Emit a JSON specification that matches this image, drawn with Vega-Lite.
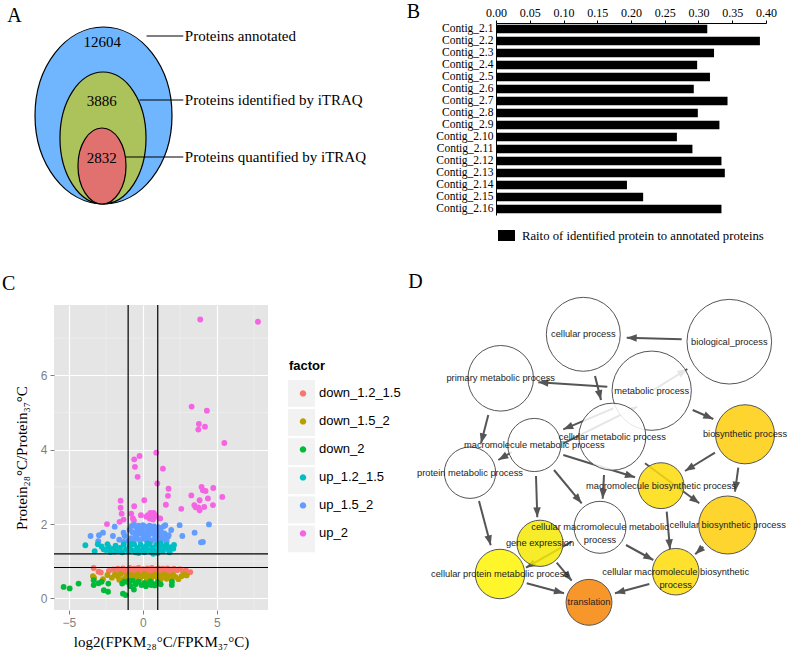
{
  "$schema": "https://vega.github.io/schema/vega-lite/v6.json",
  "padding": {"left": 2, "top": 2, "right": 0, "bottom": 0},
  "background": "white",
  "config": {"view": {"stroke": null}},
  "spacing": 29,
  "resolve": {"scale": {"color": "independent", "size": "independent", "shape": "independent"}, "legend": {"color": "independent", "size": "independent", "shape": "independent"}},
  "vconcat": [
    {
      "resolve": {"scale": {"color": "independent", "size": "independent", "shape": "independent"}, "legend": {"color": "independent", "size": "independent", "shape": "independent"}},
      "hconcat": [
        {
          "width": 442,
          "height": 192,
          "data": {"values": [
            {"set": "annotated", "n": 12604, "label": "Proteins annotated", "cx": 103.5, "cy": 115.5, "nx": 102.3, "ny": 42, "lx1": 146.5, "lx2": 183.3, "ly": 36},
            {"set": "identified", "n": 3886, "label": "Proteins identified by iTRAQ", "cx": 103, "cy": 138, "nx": 101.7, "ny": 101, "lx1": 139.5, "lx2": 183.3, "ly": 100},
            {"set": "quantified", "n": 2832, "label": "Proteins quantified by iTRAQ", "cx": 102, "cy": 166, "nx": 101.7, "ny": 158, "lx1": 126, "lx2": 183.3, "ly": 157}
          ]},
          "layer": [
            {
              "mark": {"type": "point", "filled": true, "stroke": "black", "strokeWidth": 1.2, "opacity": 1},
              "encoding": {
                "x": {"field": "cx", "type": "quantitative", "scale": {"domain": [54, 496], "nice": false, "zero": false}, "axis": null},
                "y": {"field": "cy", "type": "quantitative", "scale": {"domain": [23, 215], "nice": false, "zero": false, "reverse": true}, "axis": null},
                "shape": {"field": "set", "type": "nominal", "legend": null, "scale": {"domain": ["annotated", "identified", "quantified"], "range": [
                  "M 0.774 0 C 0.774 0.5523 0.4275 1 0 1 C -0.4275 1 -0.774 0.5523 -0.774 0 C -0.774 -0.5523 -0.4275 -1 0 -1 C 0.4275 -1 0.774 -0.5523 0.774 0 Z",
                  "M 0.652 0 C 0.652 0.5523 0.3601 1 0 1 C -0.3601 1 -0.652 0.5523 -0.652 0 C -0.652 -0.5523 -0.3601 -1 0 -1 C 0.3601 -1 0.652 -0.5523 0.652 0 Z",
                  "M 0.632 0 C 0.632 0.5523 0.349 1 0 1 C -0.349 1 -0.632 0.5523 -0.632 0 C -0.632 -0.5523 -0.349 -1 0 -1 C 0.349 -1 0.632 -0.5523 0.632 0 Z"
                ]}},
                "size": {"field": "n", "type": "quantitative", "legend": null, "scale": {"type": "linear", "domain": [2832, 3886, 12604], "range": [5776, 17424, 31329]}},
                "color": {"field": "set", "type": "nominal", "legend": null, "scale": {"domain": ["annotated", "identified", "quantified"], "range": ["#6FB6FF", "#ACC25B", "#E1716F"]}}
              }
            },
            {
              "mark": {"type": "text", "font": "Liberation Serif", "fontSize": 15, "align": "center", "baseline": "middle", "color": "black"},
              "encoding": {
                "x": {"field": "nx", "type": "quantitative", "scale": {"domain": [54, 496], "nice": false, "zero": false}, "axis": null},
                "y": {"field": "ny", "type": "quantitative", "scale": {"domain": [23, 215], "nice": false, "zero": false, "reverse": true}, "axis": null},
                "text": {"field": "n", "type": "quantitative", "format": "d"}
              }
            },
            {
              "mark": {"type": "rule", "color": "black", "strokeWidth": 1.2},
              "encoding": {
                "x": {"field": "lx1", "type": "quantitative", "scale": {"domain": [54, 496], "nice": false, "zero": false}, "axis": null},
                "x2": {"field": "lx2"},
                "y": {"field": "ly", "type": "quantitative", "scale": {"domain": [23, 215], "nice": false, "zero": false, "reverse": true}, "axis": null}
              }
            },
            {
              "mark": {"type": "text", "font": "Liberation Serif", "fontSize": 15, "align": "left", "baseline": "middle", "dx": 1.5, "color": "black"},
              "encoding": {
                "x": {"field": "lx2", "type": "quantitative", "scale": {"domain": [54, 496], "nice": false, "zero": false}, "axis": null},
                "y": {"field": "ly", "type": "quantitative", "scale": {"domain": [23, 215], "nice": false, "zero": false, "reverse": true}, "axis": null},
                "text": {"field": "label"}
              }
            },
            {
              "data": {"values": [{"t": "A", "x": 7.3, "y": 21.7}, {"t": "B", "x": 406.7, "y": 18.3}]},
              "mark": {"type": "text", "font": "Liberation Serif", "fontSize": 20, "align": "left", "baseline": "alphabetic", "color": "black"},
              "encoding": {
                "x": {"field": "x", "type": "quantitative", "scale": {"domain": [54, 496], "nice": false, "zero": false}, "axis": null},
                "y": {"field": "y", "type": "quantitative", "scale": {"domain": [23, 215], "nice": false, "zero": false, "reverse": true}, "axis": null},
                "text": {"field": "t"}
              }
            }
          ]
        },
        {
          "width": 270,
          "height": 192,
          "data": {"values": [
            {"contig": "Contig_2.1", "ratio": 0.313, "measure": "Raito of identified protein to annotated proteins"},
            {"contig": "Contig_2.2", "ratio": 0.391, "measure": "Raito of identified protein to annotated proteins"},
            {"contig": "Contig_2.3", "ratio": 0.323, "measure": "Raito of identified protein to annotated proteins"},
            {"contig": "Contig_2.4", "ratio": 0.298, "measure": "Raito of identified protein to annotated proteins"},
            {"contig": "Contig_2.5", "ratio": 0.317, "measure": "Raito of identified protein to annotated proteins"},
            {"contig": "Contig_2.6", "ratio": 0.293, "measure": "Raito of identified protein to annotated proteins"},
            {"contig": "Contig_2.7", "ratio": 0.343, "measure": "Raito of identified protein to annotated proteins"},
            {"contig": "Contig_2.8", "ratio": 0.299, "measure": "Raito of identified protein to annotated proteins"},
            {"contig": "Contig_2.9", "ratio": 0.331, "measure": "Raito of identified protein to annotated proteins"},
            {"contig": "Contig_2.10", "ratio": 0.268, "measure": "Raito of identified protein to annotated proteins"},
            {"contig": "Contig_2.11", "ratio": 0.291, "measure": "Raito of identified protein to annotated proteins"},
            {"contig": "Contig_2.12", "ratio": 0.334, "measure": "Raito of identified protein to annotated proteins"},
            {"contig": "Contig_2.13", "ratio": 0.339, "measure": "Raito of identified protein to annotated proteins"},
            {"contig": "Contig_2.14", "ratio": 0.194, "measure": "Raito of identified protein to annotated proteins"},
            {"contig": "Contig_2.15", "ratio": 0.218, "measure": "Raito of identified protein to annotated proteins"},
            {"contig": "Contig_2.16", "ratio": 0.334, "measure": "Raito of identified protein to annotated proteins"}
          ]},
          "mark": {"type": "bar"},
          "encoding": {
            "y": {"field": "contig", "type": "nominal", "sort": null, "scale": {"paddingInner": 0.31, "paddingOuter": 0.155},
              "axis": {"title": null, "ticks": false, "labelFont": "Liberation Serif", "labelFontSize": 11.5, "labelColor": "black", "labelPadding": 3, "domainColor": "black", "domainWidth": 1}},
            "x": {"field": "ratio", "type": "quantitative", "scale": {"domain": [0, 0.4], "nice": false, "zero": true},
              "axis": {"orient": "top", "title": null, "grid": false, "values": [0, 0.05, 0.1, 0.15, 0.2, 0.25, 0.3, 0.35, 0.4], "format": ".2f", "tickSize": 3, "tickColor": "black", "domainColor": "black", "labelColor": "black", "labelFont": "Liberation Serif", "labelFontSize": 12, "labelPadding": 1, "labelFlush": false}},
            "color": {"field": "measure", "type": "nominal", "scale": {"range": ["black"]},
              "legend": {"orient": "none", "legendX": 2, "legendY": 204, "title": null, "symbolType": "M -1 -0.65 L 1 -0.65 L 1 0.65 L -1 0.65 Z", "symbolSize": 289, "symbolStrokeWidth": 0, "labelFont": "Liberation Serif", "labelFontSize": 12.7, "labelColor": "black", "labelOffset": 7, "labelLimit": 400, "padding": 0}}
          }
        }
      ],
      "spacing": 0,
      "bounds": "flush"
    },
    {
      "resolve": {"scale": {"color": "independent", "size": "independent", "shape": "independent"}, "legend": {"color": "independent", "size": "independent", "shape": "independent"}},
      "hconcat": [
        {
          "width": 214,
          "height": 305,
          "view": {"fill": "#E5E5E5", "stroke": null},
          "layer": [
            {
              "data": {"values": [{"k": "k1"}, {"k": "k2"}, {"k": "k3"}, {"k": "k4"}, {"k": "k5"}, {"k": "k6"}]},
              "mark": {"type": "point", "filled": true, "color": "#F2F2F2", "opacity": 0},
              "encoding": {
                "shape": {"field": "k", "type": "nominal",
                  "scale": {"domain": ["k1", "k2", "k3", "k4", "k5", "k6"], "range": [
                    "M -0.96 -0.96 L 0.96 -0.96 L 0.96 0.96 L -0.96 0.96 Z", "M -0.96 -0.96 L 0.96 -0.96 L 0.96 0.96 L -0.96 0.96 Z", "M -0.96 -0.96 L 0.96 -0.96 L 0.96 0.96 L -0.96 0.96 Z",
                    "M -0.96 -0.96 L 0.96 -0.96 L 0.96 0.96 L -0.96 0.96 Z", "M -0.96 -0.96 L 0.96 -0.96 L 0.96 0.96 L -0.96 0.96 Z", "M -0.96 -0.96 L 0.96 -0.96 L 0.96 0.96 L -0.96 0.96 Z"]},
                  "legend": {"title": " ", "orient": "none", "legendX": 233.5, "legendY": 55.4, "titleFont": "Liberation Sans", "titleFontSize": 13, "titleFontWeight": "bold", "titlePadding": 6, "labelFont": "Liberation Sans", "labelFontSize": 13, "labelExpr": "''", "labelOffset": 2, "symbolSize": 784, "symbolFillColor": "#F2F2F2", "symbolStrokeWidth": 0, "symbolOpacity": 1, "rowPadding": 1.1, "padding": 0, "zindex": 0}}
              }
            },
            {
              "data": {"values": [{"x": -2.5}, {"x": 2.5}, {"x": 7.5}]},
              "mark": {"type": "rule", "color": "#F2F2F2", "strokeWidth": 0.6},
              "encoding": {"x": {"field": "x", "type": "quantitative", "scale": {"domain": [-6.01, 8.45], "nice": false, "zero": false}}}
            },
            {
              "data": {"values": [{"y": 1}, {"y": 3}, {"y": 5}, {"y": 7}]},
              "mark": {"type": "rule", "color": "#F2F2F2", "strokeWidth": 0.6},
              "encoding": {"y": {"field": "y", "type": "quantitative", "scale": {"domain": [-0.31, 7.89], "nice": false, "zero": false}}}
            },
            {
              "data": {"values": [
                {"x": 3.87, "y": 7.5, "f": "up_2"}, {"x": 7.77, "y": 7.44, "f": "up_2"}, {"x": 3.29, "y": 5.16, "f": "up_2"}, {"x": 4.32, "y": 5.05, "f": "up_2"},
                {"x": 3.78, "y": 4.69, "f": "up_2"}, {"x": 4.19, "y": 4.62, "f": "up_2"}, {"x": 3.74, "y": 4.54, "f": "up_2"}, {"x": 5.5, "y": 4.18, "f": "up_2"},
                {"x": 0.9, "y": 3.92, "f": "up_2"}, {"x": -0.23, "y": 3.83, "f": "up_2"}, {"x": -0.59, "y": 3.74, "f": "up_2"}, {"x": -0.54, "y": 3.54, "f": "up_2"},
                {"x": 1.35, "y": 3.49, "f": "up_2"}, {"x": -0.36, "y": 3.27, "f": "up_2"}, {"x": 0.97, "y": 3.09, "f": "up_2"}, {"x": 1.73, "y": 2.95, "f": "up_2"},
                {"x": 4.75, "y": 2.97, "f": "up_2"}, {"x": 3.96, "y": 3.0, "f": "up_2"}, {"x": 4.05, "y": 2.91, "f": "up_2"}, {"x": 4.23, "y": 2.89, "f": "up_2"},
                {"x": 3.27, "y": 2.77, "f": "up_2"}, {"x": 5.36, "y": 2.73, "f": "up_2"}, {"x": 1.69, "y": 2.76, "f": "up_2"}, {"x": 4.39, "y": 2.69, "f": "up_2"},
                {"x": 3.83, "y": 2.64, "f": "up_2"}, {"x": 0.09, "y": 2.64, "f": "up_2"}, {"x": -1.51, "y": 2.63, "f": "up_2"}, {"x": 3.47, "y": 2.51, "f": "up_2"},
                {"x": 1.55, "y": 2.52, "f": "up_2"}, {"x": 4.73, "y": 2.51, "f": "up_2"}, {"x": -0.59, "y": 2.48, "f": "up_2"}, {"x": -1.51, "y": 2.44, "f": "up_2"},
                {"x": 3.56, "y": 2.45, "f": "up_2"}, {"x": 3.74, "y": 2.45, "f": "up_2"}, {"x": 4.14, "y": 2.46, "f": "up_2"}, {"x": 2.59, "y": 2.41, "f": "up_2"},
                {"x": 3.83, "y": 2.37, "f": "up_2"}, {"x": -1.44, "y": 2.28, "f": "up_2"}, {"x": -0.79, "y": 2.28, "f": "up_2"}, {"x": -0.14, "y": 2.24, "f": "up_2"},
                {"x": 0.34, "y": 2.24, "f": "up_2"}, {"x": 0.56, "y": 2.28, "f": "up_2"}, {"x": 0.72, "y": 2.3, "f": "up_2"}, {"x": 0.81, "y": 2.24, "f": "up_2"},
                {"x": 0.45, "y": 2.15, "f": "up_2"}, {"x": 0.68, "y": 2.12, "f": "up_2"}, {"x": 1.17, "y": 2.15, "f": "up_2"}, {"x": -0.68, "y": 2.15, "f": "up_2"},
                {"x": -1.31, "y": 2.12, "f": "up_2"}, {"x": -1.58, "y": 2.06, "f": "up_2"}, {"x": -2.43, "y": 2.0, "f": "up_2"}, {"x": 0.23, "y": 2.2, "f": "up_2"},
                {"x": 0.9, "y": 2.2, "f": "up_2"}, {"x": -0.61, "y": 2.09, "f": "up_2"}, {"x": 0.5, "y": 2.3, "f": "up_2"}, {"x": 0.62, "y": 2.26, "f": "up_2"},

                {"x": -3.54, "y": 1.68, "f": "up_1.5_2"}, {"x": -2.97, "y": 1.7, "f": "up_1.5_2"}, {"x": -2.7, "y": 1.77, "f": "up_1.5_2"}, {"x": -1.91, "y": 1.93, "f": "up_1.5_2"},
                {"x": -2.03, "y": 1.68, "f": "up_1.5_2"}, {"x": -3.02, "y": 1.54, "f": "up_1.5_2"}, {"x": -1.24, "y": 1.68, "f": "up_1.5_2"}, {"x": -1.31, "y": 1.77, "f": "up_1.5_2"},
                {"x": 2.48, "y": 1.97, "f": "up_1.5_2"}, {"x": 2.66, "y": 1.68, "f": "up_1.5_2"}, {"x": 3.49, "y": 1.77, "f": "up_1.5_2"}, {"x": 4.46, "y": 1.99, "f": "up_1.5_2"},
                {"x": 3.92, "y": 1.51, "f": "up_1.5_2"}, {"x": 4.05, "y": 1.52, "f": "up_1.5_2"}, {"x": 1.91, "y": 1.84, "f": "up_1.5_2"}, {"x": 1.69, "y": 1.66, "f": "up_1.5_2"},
                {"x": 1.4, "y": 1.94, "f": "up_1.5_2"}, {"x": 1.51, "y": 1.97, "f": "up_1.5_2"}, {"x": 1.45, "y": 1.75, "f": "up_1.5_2"},
                {"x": -0.75, "y": 1.95, "f": "up_1.5_2"}, {"x": -0.6, "y": 1.98, "f": "up_1.5_2"}, {"x": -0.45, "y": 1.92, "f": "up_1.5_2"}, {"x": -0.3, "y": 1.96, "f": "up_1.5_2"},
                {"x": -0.15, "y": 1.9, "f": "up_1.5_2"}, {"x": 0.0, "y": 1.97, "f": "up_1.5_2"}, {"x": 0.15, "y": 1.93, "f": "up_1.5_2"}, {"x": 0.3, "y": 1.88, "f": "up_1.5_2"},
                {"x": 0.45, "y": 1.96, "f": "up_1.5_2"}, {"x": 0.6, "y": 1.9, "f": "up_1.5_2"}, {"x": 0.75, "y": 1.94, "f": "up_1.5_2"}, {"x": 0.9, "y": 1.86, "f": "up_1.5_2"},
                {"x": 1.05, "y": 1.92, "f": "up_1.5_2"}, {"x": 1.2, "y": 1.82, "f": "up_1.5_2"}, {"x": -0.7, "y": 1.78, "f": "up_1.5_2"}, {"x": -0.5, "y": 1.72, "f": "up_1.5_2"},
                {"x": -0.35, "y": 1.82, "f": "up_1.5_2"}, {"x": -0.2, "y": 1.75, "f": "up_1.5_2"}, {"x": -0.05, "y": 1.8, "f": "up_1.5_2"}, {"x": 0.1, "y": 1.7, "f": "up_1.5_2"},
                {"x": 0.25, "y": 1.78, "f": "up_1.5_2"}, {"x": 0.4, "y": 1.72, "f": "up_1.5_2"}, {"x": 0.55, "y": 1.8, "f": "up_1.5_2"}, {"x": 0.7, "y": 1.74, "f": "up_1.5_2"},
                {"x": 0.85, "y": 1.68, "f": "up_1.5_2"}, {"x": 1.0, "y": 1.76, "f": "up_1.5_2"}, {"x": 1.15, "y": 1.66, "f": "up_1.5_2"}, {"x": 1.3, "y": 1.72, "f": "up_1.5_2"},
                {"x": 1.45, "y": 1.6, "f": "up_1.5_2"}, {"x": -0.8, "y": 1.62, "f": "up_1.5_2"}, {"x": -0.6, "y": 1.58, "f": "up_1.5_2"}, {"x": -0.4, "y": 1.62, "f": "up_1.5_2"},
                {"x": -0.2, "y": 1.56, "f": "up_1.5_2"}, {"x": 0.0, "y": 1.62, "f": "up_1.5_2"}, {"x": 0.2, "y": 1.58, "f": "up_1.5_2"}, {"x": 0.4, "y": 1.6, "f": "up_1.5_2"},
                {"x": 0.6, "y": 1.55, "f": "up_1.5_2"}, {"x": 0.8, "y": 1.6, "f": "up_1.5_2"}, {"x": 1.0, "y": 1.56, "f": "up_1.5_2"}, {"x": 1.2, "y": 1.56, "f": "up_1.5_2"},
                {"x": -1.0, "y": 1.55, "f": "up_1.5_2"}, {"x": -1.3, "y": 1.52, "f": "up_1.5_2"}, {"x": -1.6, "y": 1.58, "f": "up_1.5_2"}, {"x": 1.6, "y": 1.54, "f": "up_1.5_2"},
                {"x": -0.9, "y": 1.85, "f": "up_1.5_2"}, {"x": 1.74, "y": 1.7, "f": "up_1.5_2"},

                {"x": -3.89, "y": 1.43, "f": "up_1.2_1.5"}, {"x": -3.26, "y": 1.27, "f": "up_1.2_1.5"}, {"x": -3.05, "y": 1.46, "f": "up_1.2_1.5"}, {"x": -2.66, "y": 1.32, "f": "up_1.2_1.5"},
                {"x": -2.8, "y": 1.4, "f": "up_1.2_1.5"}, {"x": -2.5, "y": 1.3, "f": "up_1.2_1.5"}, {"x": -2.3, "y": 1.38, "f": "up_1.2_1.5"}, {"x": -2.2, "y": 1.25, "f": "up_1.2_1.5"},
                {"x": -2.0, "y": 1.33, "f": "up_1.2_1.5"}, {"x": -1.85, "y": 1.42, "f": "up_1.2_1.5"}, {"x": -1.7, "y": 1.28, "f": "up_1.2_1.5"}, {"x": -1.55, "y": 1.36, "f": "up_1.2_1.5"},
                {"x": -1.4, "y": 1.24, "f": "up_1.2_1.5"}, {"x": -1.3, "y": 1.45, "f": "up_1.2_1.5"}, {"x": -1.15, "y": 1.32, "f": "up_1.2_1.5"}, {"x": -1.0, "y": 1.26, "f": "up_1.2_1.5"},
                {"x": -0.9, "y": 1.4, "f": "up_1.2_1.5"}, {"x": -0.75, "y": 1.3, "f": "up_1.2_1.5"}, {"x": -0.6, "y": 1.46, "f": "up_1.2_1.5"}, {"x": -0.5, "y": 1.24, "f": "up_1.2_1.5"},
                {"x": -0.4, "y": 1.36, "f": "up_1.2_1.5"}, {"x": -0.25, "y": 1.28, "f": "up_1.2_1.5"}, {"x": -0.15, "y": 1.44, "f": "up_1.2_1.5"}, {"x": 0.0, "y": 1.32, "f": "up_1.2_1.5"},
                {"x": 0.1, "y": 1.24, "f": "up_1.2_1.5"}, {"x": 0.2, "y": 1.4, "f": "up_1.2_1.5"}, {"x": 0.35, "y": 1.3, "f": "up_1.2_1.5"}, {"x": 0.45, "y": 1.46, "f": "up_1.2_1.5"},
                {"x": 0.55, "y": 1.25, "f": "up_1.2_1.5"}, {"x": 0.65, "y": 1.36, "f": "up_1.2_1.5"}, {"x": 0.8, "y": 1.28, "f": "up_1.2_1.5"}, {"x": 0.9, "y": 1.44, "f": "up_1.2_1.5"},
                {"x": 1.0, "y": 1.22, "f": "up_1.2_1.5"}, {"x": 1.1, "y": 1.34, "f": "up_1.2_1.5"}, {"x": 1.25, "y": 1.42, "f": "up_1.2_1.5"}, {"x": 1.35, "y": 1.27, "f": "up_1.2_1.5"},
                {"x": 1.5, "y": 1.36, "f": "up_1.2_1.5"}, {"x": 1.6, "y": 1.44, "f": "up_1.2_1.5"}, {"x": 1.75, "y": 1.3, "f": "up_1.2_1.5"}, {"x": 1.9, "y": 1.38, "f": "up_1.2_1.5"},
                {"x": 2.05, "y": 1.34, "f": "up_1.2_1.5"}, {"x": 2.1, "y": 1.44, "f": "up_1.2_1.5"}, {"x": -0.8, "y": 1.47, "f": "up_1.2_1.5"}, {"x": 0.3, "y": 1.48, "f": "up_1.2_1.5"},
                {"x": 1.2, "y": 1.48, "f": "up_1.2_1.5"}, {"x": -1.9, "y": 1.26, "f": "up_1.2_1.5"}, {"x": -2.4, "y": 1.46, "f": "up_1.2_1.5"}, {"x": -0.3, "y": 1.22, "f": "up_1.2_1.5"},
                {"x": 0.7, "y": 1.2, "f": "up_1.2_1.5"}, {"x": 1.8, "y": 1.24, "f": "up_1.2_1.5"},

                {"x": -3.33, "y": 0.82, "f": "down_1.2_1.5"}, {"x": -3.0, "y": 0.72, "f": "down_1.2_1.5"}, {"x": -2.85, "y": 0.7, "f": "down_1.2_1.5"}, {"x": -2.0, "y": 0.78, "f": "down_1.2_1.5"},
                {"x": -1.85, "y": 0.72, "f": "down_1.2_1.5"}, {"x": -1.7, "y": 0.8, "f": "down_1.2_1.5"}, {"x": -1.5, "y": 0.75, "f": "down_1.2_1.5"}, {"x": -1.35, "y": 0.81, "f": "down_1.2_1.5"},
                {"x": -1.2, "y": 0.7, "f": "down_1.2_1.5"}, {"x": -1.05, "y": 0.77, "f": "down_1.2_1.5"}, {"x": -0.9, "y": 0.82, "f": "down_1.2_1.5"}, {"x": -0.75, "y": 0.73, "f": "down_1.2_1.5"},
                {"x": -0.6, "y": 0.8, "f": "down_1.2_1.5"}, {"x": -0.45, "y": 0.76, "f": "down_1.2_1.5"}, {"x": -0.3, "y": 0.82, "f": "down_1.2_1.5"}, {"x": -0.15, "y": 0.71, "f": "down_1.2_1.5"},
                {"x": 0.0, "y": 0.79, "f": "down_1.2_1.5"}, {"x": 0.15, "y": 0.74, "f": "down_1.2_1.5"}, {"x": 0.3, "y": 0.81, "f": "down_1.2_1.5"}, {"x": 0.45, "y": 0.77, "f": "down_1.2_1.5"},
                {"x": 0.6, "y": 0.82, "f": "down_1.2_1.5"}, {"x": 0.75, "y": 0.72, "f": "down_1.2_1.5"}, {"x": 0.9, "y": 0.79, "f": "down_1.2_1.5"}, {"x": 1.05, "y": 0.81, "f": "down_1.2_1.5"},
                {"x": 1.2, "y": 0.75, "f": "down_1.2_1.5"}, {"x": 1.35, "y": 0.8, "f": "down_1.2_1.5"}, {"x": 1.5, "y": 0.74, "f": "down_1.2_1.5"}, {"x": 1.65, "y": 0.81, "f": "down_1.2_1.5"},
                {"x": 1.8, "y": 0.78, "f": "down_1.2_1.5"}, {"x": 1.95, "y": 0.72, "f": "down_1.2_1.5"}, {"x": 2.1, "y": 0.8, "f": "down_1.2_1.5"}, {"x": 2.3, "y": 0.76, "f": "down_1.2_1.5"},
                {"x": 2.5, "y": 0.79, "f": "down_1.2_1.5"}, {"x": 2.7, "y": 0.73, "f": "down_1.2_1.5"}, {"x": 2.9, "y": 0.76, "f": "down_1.2_1.5"}, {"x": 3.2, "y": 0.71, "f": "down_1.2_1.5"},
                {"x": 3.05, "y": 0.69, "f": "down_1.2_1.5"}, {"x": -2.3, "y": 0.74, "f": "down_1.2_1.5"}, {"x": -0.5, "y": 0.7, "f": "down_1.2_1.5"}, {"x": 0.5, "y": 0.69, "f": "down_1.2_1.5"},
                {"x": 1.6, "y": 0.69, "f": "down_1.2_1.5"},

                {"x": -3.38, "y": 0.6, "f": "down_1.5_2"}, {"x": -3.3, "y": 0.55, "f": "down_1.5_2"}, {"x": -2.7, "y": 0.52, "f": "down_1.5_2"}, {"x": -2.4, "y": 0.63, "f": "down_1.5_2"},
                {"x": -2.1, "y": 0.56, "f": "down_1.5_2"}, {"x": -1.9, "y": 0.64, "f": "down_1.5_2"}, {"x": -1.7, "y": 0.59, "f": "down_1.5_2"}, {"x": -1.5, "y": 0.66, "f": "down_1.5_2"},
                {"x": -1.3, "y": 0.52, "f": "down_1.5_2"}, {"x": -1.1, "y": 0.6, "f": "down_1.5_2"}, {"x": -0.95, "y": 0.65, "f": "down_1.5_2"}, {"x": -0.8, "y": 0.55, "f": "down_1.5_2"},
                {"x": -0.65, "y": 0.62, "f": "down_1.5_2"}, {"x": -0.5, "y": 0.57, "f": "down_1.5_2"}, {"x": -0.35, "y": 0.64, "f": "down_1.5_2"}, {"x": -0.2, "y": 0.53, "f": "down_1.5_2"},
                {"x": -0.05, "y": 0.6, "f": "down_1.5_2"}, {"x": 0.1, "y": 0.66, "f": "down_1.5_2"}, {"x": 0.25, "y": 0.56, "f": "down_1.5_2"}, {"x": 0.4, "y": 0.62, "f": "down_1.5_2"},
                {"x": 0.55, "y": 0.52, "f": "down_1.5_2"}, {"x": 0.7, "y": 0.6, "f": "down_1.5_2"}, {"x": 0.85, "y": 0.65, "f": "down_1.5_2"}, {"x": 1.0, "y": 0.55, "f": "down_1.5_2"},
                {"x": 1.15, "y": 0.62, "f": "down_1.5_2"}, {"x": 1.3, "y": 0.58, "f": "down_1.5_2"}, {"x": 1.45, "y": 0.65, "f": "down_1.5_2"}, {"x": 1.6, "y": 0.53, "f": "down_1.5_2"},
                {"x": 1.75, "y": 0.6, "f": "down_1.5_2"}, {"x": 1.9, "y": 0.56, "f": "down_1.5_2"}, {"x": 2.05, "y": 0.63, "f": "down_1.5_2"}, {"x": 2.2, "y": 0.58, "f": "down_1.5_2"},
                {"x": 2.4, "y": 0.52, "f": "down_1.5_2"}, {"x": 2.6, "y": 0.6, "f": "down_1.5_2"}, {"x": 2.8, "y": 0.65, "f": "down_1.5_2"}, {"x": 2.95, "y": 0.62, "f": "down_1.5_2"},
                {"x": -0.6, "y": 0.5, "f": "down_1.5_2"}, {"x": 0.3, "y": 0.5, "f": "down_1.5_2"}, {"x": 1.2, "y": 0.51, "f": "down_1.5_2"}, {"x": -1.6, "y": 0.5, "f": "down_1.5_2"},

                {"x": -5.36, "y": 0.31, "f": "down_2"}, {"x": -4.95, "y": 0.27, "f": "down_2"}, {"x": -4.35, "y": 0.4, "f": "down_2"}, {"x": -3.33, "y": 0.36, "f": "down_2"},
                {"x": -3.33, "y": 0.49, "f": "down_2"}, {"x": -2.79, "y": 0.45, "f": "down_2"}, {"x": -2.34, "y": 0.4, "f": "down_2"}, {"x": -2.64, "y": 0.22, "f": "down_2"},
                {"x": -2.36, "y": 0.18, "f": "down_2"}, {"x": -1.35, "y": 0.13, "f": "down_2"}, {"x": -1.17, "y": 0.09, "f": "down_2"}, {"x": -0.61, "y": 0.24, "f": "down_2"},
                {"x": -1.4, "y": 0.4, "f": "down_2"}, {"x": -1.25, "y": 0.45, "f": "down_2"}, {"x": -0.95, "y": 0.42, "f": "down_2"}, {"x": -0.7, "y": 0.48, "f": "down_2"},
                {"x": -0.5, "y": 0.38, "f": "down_2"}, {"x": -0.3, "y": 0.45, "f": "down_2"}, {"x": -0.1, "y": 0.36, "f": "down_2"}, {"x": 0.1, "y": 0.42, "f": "down_2"},
                {"x": 0.3, "y": 0.38, "f": "down_2"}, {"x": 0.5, "y": 0.46, "f": "down_2"}, {"x": 0.65, "y": 0.4, "f": "down_2"}, {"x": 0.8, "y": 0.35, "f": "down_2"},
                {"x": 1.0, "y": 0.44, "f": "down_2"}, {"x": 1.2, "y": 0.38, "f": "down_2"}, {"x": -0.85, "y": 0.33, "f": "down_2"}, {"x": 0.2, "y": 0.33, "f": "down_2"},
                {"x": 0.55, "y": 0.36, "f": "down_2"}, {"x": 1.96, "y": 0.45, "f": "down_2"}, {"x": 1.95, "y": 0.36, "f": "down_2"}, {"x": -0.95, "y": 0.47, "f": "down_2"},
                {"x": -3.0, "y": 0.41, "f": "down_2"}
              ]},
              "mark": {"type": "circle", "size": 34, "opacity": 1},
              "encoding": {
                "x": {"field": "x", "type": "quantitative", "scale": {"domain": [-6.01, 8.45], "nice": false, "zero": false},
                  "axis": {"title": "log2(FPKM₂₈°C/FPKM₃₇°C)", "values": [-5, 0, 5], "grid": true, "gridColor": "white", "gridWidth": 1.2, "domain": false, "tickColor": "#7F7F7F", "tickSize": 4, "labelColor": "#7F7F7F", "labelFont": "Liberation Sans", "labelFontSize": 12, "labelPadding": 3, "titleFont": "Liberation Serif", "titleFontSize": 15, "titleFontWeight": "normal", "titleColor": "black", "titlePadding": 6}},
                "y": {"field": "y", "type": "quantitative", "scale": {"domain": [-0.31, 7.89], "nice": false, "zero": false},
                  "axis": {"title": "Protein₂₈°C/Protein₃₇°C", "values": [0, 2, 4, 6], "grid": true, "gridColor": "white", "gridWidth": 1.2, "domain": false, "tickColor": "#7F7F7F", "tickSize": 4, "labelColor": "#7F7F7F", "labelFont": "Liberation Sans", "labelFontSize": 12, "labelPadding": 3, "titleFont": "Liberation Serif", "titleFontSize": 15, "titleFontWeight": "normal", "titleColor": "black", "titlePadding": 11}},
                "color": {"field": "f", "type": "nominal",
                  "scale": {"domain": ["down_1.2_1.5", "down_1.5_2", "down_2", "up_1.2_1.5", "up_1.5_2", "up_2"], "range": ["#F8766D", "#B79F00", "#00BA38", "#00BFC4", "#619CFF", "#F564E3"]},
                  "legend": {"title": "factor", "orient": "none", "legendX": 235, "legendY": 55.4, "titleFont": "Liberation Sans", "titleFontSize": 13, "titleFontWeight": "bold", "titleColor": "black", "titlePadding": 6, "labelFont": "Liberation Sans", "labelFontSize": 13, "labelColor": "black", "labelOffset": 2, "symbolSize": 784, "symbolStrokeWidth": 0, "symbolOpacity": 1,
                    "symbolType": "M 0.23 0 C 0.23 0.127 0.127 0.23 0 0.23 C -0.127 0.23 -0.23 0.127 -0.23 0 C -0.23 -0.127 -0.127 -0.23 0 -0.23 C 0.127 -0.23 0.23 -0.127 0.23 0 Z", "rowPadding": 7, "padding": 0, "zindex": 1}}
              }
            },
            {
              "data": {"values": [{"x": -1}, {"x": 1}]},
              "mark": {"type": "rule", "color": "black", "strokeWidth": 1.2},
              "encoding": {"x": {"field": "x", "type": "quantitative", "scale": {"domain": [-6.01, 8.45], "nice": false, "zero": false}}}
            },
            {
              "data": {"values": [{"y": 1.2}, {"y": 0.833}]},
              "mark": {"type": "rule", "color": "black", "strokeWidth": 1.2},
              "encoding": {"y": {"field": "y", "type": "quantitative", "scale": {"domain": [-0.31, 7.89], "nice": false, "zero": false}}}
            }
          ]
        },
        {
          "width": 387,
          "height": 352,
          "layer": [
            {
              "data": {"name": "edges", "values": [
                {"x1": 681.7, "y1": 339.3, "x2": 626.7, "y2": 337.7},
                {"x1": 607.3, "y1": 386.7, "x2": 538.3, "y2": 382.3},
                {"x1": 595, "y1": 376, "x2": 601, "y2": 400},
                {"x1": 692.7, "y1": 410, "x2": 713.3, "y2": 419},
                {"x1": 488.3, "y1": 415, "x2": 481, "y2": 443.3},
                {"x1": 613.3, "y1": 408.3, "x2": 563.3, "y2": 429.3},
                {"x1": 512, "y1": 452, "x2": 498.3, "y2": 460},
                {"x1": 563.3, "y1": 455, "x2": 635, "y2": 477.3},
                {"x1": 645, "y1": 463.3, "x2": 699.3, "y2": 503.3},
                {"x1": 715, "y1": 452.7, "x2": 685, "y2": 471},
                {"x1": 738.3, "y1": 467.7, "x2": 735, "y2": 491.7},
                {"x1": 604, "y1": 475, "x2": 602.7, "y2": 498.7},
                {"x1": 536, "y1": 476, "x2": 537.3, "y2": 517.3},
                {"x1": 554, "y1": 470, "x2": 581.7, "y2": 503.3},
                {"x1": 479, "y1": 501, "x2": 490.7, "y2": 545.3},
                {"x1": 666.7, "y1": 511.7, "x2": 670, "y2": 549.3},
                {"x1": 626, "y1": 545, "x2": 653.3, "y2": 560},
                {"x1": 703.3, "y1": 546.8, "x2": 695.2, "y2": 554.2},
                {"x1": 571.7, "y1": 541.7, "x2": 526, "y2": 567.7},
                {"x1": 556.7, "y1": 562.7, "x2": 571.7, "y2": 580.7},
                {"x1": 526.7, "y1": 583.3, "x2": 564, "y2": 593.3},
                {"x1": 649.3, "y1": 584, "x2": 615, "y2": 593.3},
                {"x1": 653.3, "y1": 390, "x2": 687.3, "y2": 369},
                {"x1": 563.3, "y1": 443.3, "x2": 637.3, "y2": 406.7}
              ]},
              "mark": {"type": "rule", "color": "#555555", "strokeWidth": 2},
              "encoding": {
                "x": {"field": "x1", "type": "quantitative", "scale": {"domain": [400, 787], "nice": false, "zero": false}, "axis": null},
                "y": {"field": "y1", "type": "quantitative", "scale": {"domain": [305, 657], "nice": false, "zero": false, "reverse": true}, "axis": null},
                "x2": {"field": "x2"},
                "y2": {"field": "y2"}
              }
            },
            {
              "data": {"name": "edges"},
              "transform": [{"calculate": "atan2(datum.y2 - datum.y1, datum.x2 - datum.x1) * 180 / PI", "as": "ang"}],
              "mark": {"type": "point", "filled": true, "opacity": 1, "color": "#555555", "size": 100, "shape": "M 0 0 L -2 -0.75 L -2 0.75 Z"},
              "encoding": {
                "x": {"field": "x2", "type": "quantitative", "scale": {"domain": [400, 787], "nice": false, "zero": false}, "axis": null},
                "y": {"field": "y2", "type": "quantitative", "scale": {"domain": [305, 657], "nice": false, "zero": false, "reverse": true}, "axis": null},
                "angle": {"field": "ang", "type": "quantitative", "scale": null}
              }
            },
            {
              "data": {"values": [
                {"label": "cellular process", "x": 583.3, "y": 334.3, "n": 174, "sig": "ns"},
                {"label": "biological_process", "x": 729.3, "y": 341.7, "n": 228, "sig": "ns"},
                {"label": "primary metabolic process", "x": 500.7, "y": 378.3, "n": 137, "sig": "ns"},
                {"label": "metabolic process", "x": 651.7, "y": 390.7, "n": 200, "sig": "ns"},
                {"label": "cellular metabolic process", "x": 612.3, "y": 436.7, "n": 143, "sig": "ns"},
                {"label": "macromolecule metabolic process", "x": 534.3, "y": 445, "n": 90, "sig": "ns"},
                {"label": "protein metabolic process", "x": 470, "y": 472.7, "n": 84, "sig": "ns"},
                {"label": "biosynthetic process", "x": 745, "y": 434.3, "n": 111, "sig": "s2"},
                {"label": "macromolecule biosynthetic process", "x": 661, "y": 485.7, "n": 67, "sig": "s1"},
                {"label": "cellular macromolecule metabolic\nprocess", "x": 600, "y": 527.3, "n": 86, "sig": "ns"},
                {"label": "cellular biosynthetic process", "x": 727.7, "y": 525, "n": 107, "sig": "s2"},
                {"label": "cellular protein metabolic process", "x": 500, "y": 574, "n": 78, "sig": "s4"},
                {"label": "gene expression", "x": 540, "y": 543.3, "n": 68, "sig": "s3"},
                {"label": "cellular macromolecule biosynthetic\nprocess", "x": 675.7, "y": 571.7, "n": 69, "sig": "s1"},
                {"label": "translation", "x": 589, "y": 602.3, "n": 67, "sig": "s5"}
              ]},
              "layer": [
                {
                  "mark": {"type": "point", "filled": true, "shape": "circle", "stroke": "#555555", "strokeWidth": 1, "opacity": 1, "fillOpacity": 0.85},
                  "encoding": {
                    "x": {"field": "x", "type": "quantitative", "scale": {"domain": [400, 787], "nice": false, "zero": false}, "axis": null},
                    "y": {"field": "y", "type": "quantitative", "scale": {"domain": [305, 657], "nice": false, "zero": false, "reverse": true}, "axis": null},
                    "size": {"field": "n", "type": "quantitative", "legend": null, "scale": {"domain": [0, 250], "range": [0, 7854]}},
                    "color": {"field": "sig", "type": "nominal", "legend": null, "scale": {"domain": ["ns", "s1", "s2", "s3", "s4", "s5"], "range": ["#FFFFFF", "#FDDC08", "#FDCE09", "#F6E904", "#FEF306", "#F68406"]}}
                  }
                },
                {
                  "mark": {"type": "text", "font": "Liberation Sans", "fontSize": 9.3, "color": "#222222", "align": "center", "baseline": "middle", "lineBreak": "\n", "lineHeight": 13},
                  "encoding": {
                    "x": {"field": "x", "type": "quantitative", "scale": {"domain": [400, 787], "nice": false, "zero": false}, "axis": null},
                    "y": {"field": "y", "type": "quantitative", "scale": {"domain": [305, 657], "nice": false, "zero": false, "reverse": true}, "axis": null},
                    "text": {"field": "label"}
                  }
                }
              ]
            },
            {
              "data": {"values": [{"t": "C", "x": 2, "y": 290}, {"t": "D", "x": 408.3, "y": 288.3}]},
              "mark": {"type": "text", "font": "Liberation Serif", "fontSize": 20, "align": "left", "baseline": "alphabetic", "color": "black"},
              "encoding": {
                "x": {"field": "x", "type": "quantitative", "scale": {"domain": [400, 787], "nice": false, "zero": false}, "axis": null},
                "y": {"field": "y", "type": "quantitative", "scale": {"domain": [305, 657], "nice": false, "zero": false, "reverse": true}, "axis": null},
                "text": {"field": "t"}
              }
            }
          ]
        }
      ],
      "spacing": 132,
      "bounds": "flush"
    }
  ]
}
